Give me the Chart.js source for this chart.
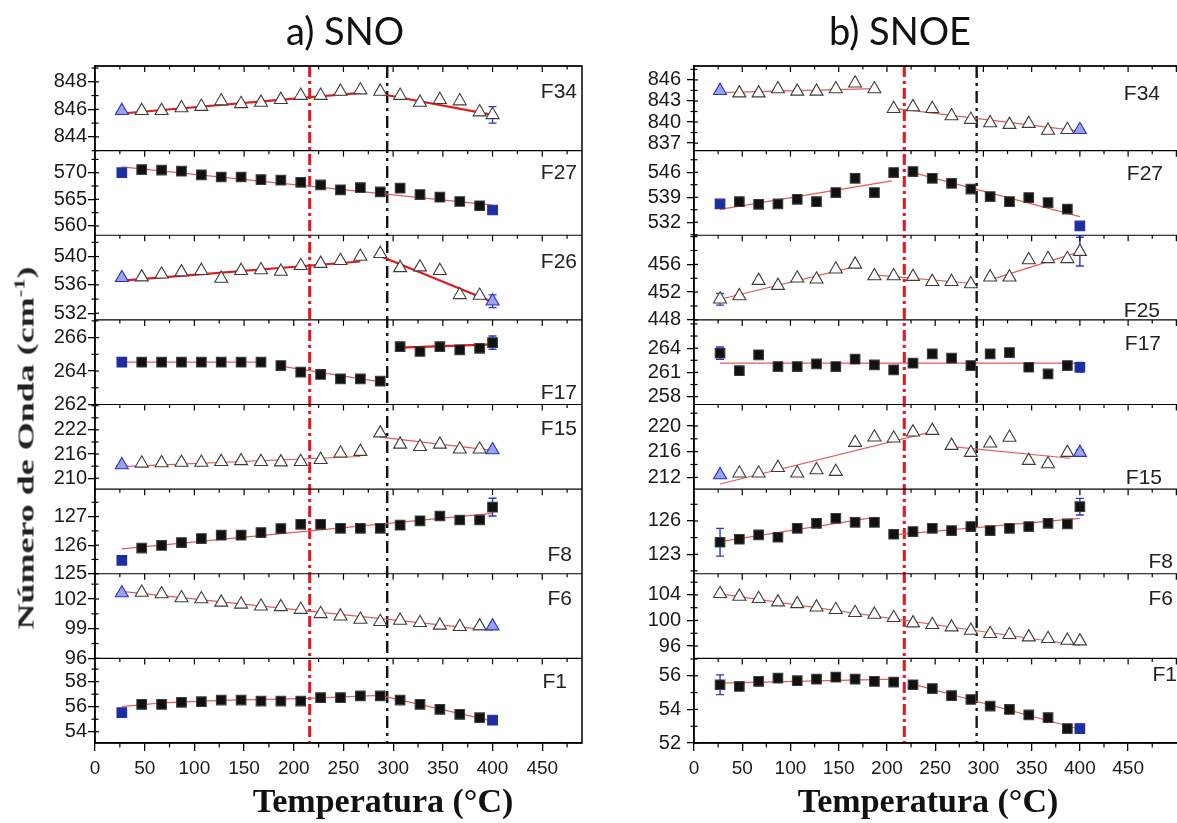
<!DOCTYPE html>
<html>
<head>
<meta charset="utf-8">
<script src="https://cdn.jsdelivr.net/npm/chart.js@4.4.1/dist/chart.umd.min.js"></script>
<style>
  html, body { margin: 0; padding: 0; background: #fff; }
  body { width: 1177px; height: 823px; overflow: hidden; position: relative; }
  canvas { position: absolute; top: 0; }
  #snoChart { left: 0; }
  #snoeChart { left: 600px; }
  .title { position: absolute; top: 30px; font-family: Lato, 'Open Sans', sans-serif; font-size: 38px; color: #111;
           line-height: 1; transform: translate(-50%, -50%); white-space: nowrap; }
  .xtitle { position: absolute; top: 801px; font-family: 'Liberation Serif', 'Times New Roman', serif; font-weight: bold;
            font-size: 34px; color: #111; line-height: 1; transform: translate(-50%, -50%); white-space: nowrap; }
  .ytitle { position: absolute; left: 25px; top: 448px; font-family: 'Liberation Serif', 'Times New Roman', serif;
            font-weight: bold; font-size: 24px; color: #222; line-height: 1; white-space: nowrap;
            transform: translate(-50%, -50%) rotate(-90deg) scaleX(1.5); }
  .ytitle sup { font-size: 15px; }
  .band { position: absolute; font-family: 'Liberation Sans', Arial, sans-serif; font-size: 21px; color: #222;
          line-height: 1; white-space: nowrap; transform: translate(-100%, -50%); }
</style>
</head>
<body>
<canvas id="snoChart" width="600" height="823"></canvas>
<canvas id="snoeChart" width="600" height="823"></canvas>
<div class="title" style="left:345px">a) SNO</div>
<div class="title" style="left:900px">b) SNOE</div>
<div class="xtitle" style="left:383px">Temperatura (°C)</div>
<div class="xtitle" style="left:928px">Temperatura (°C)</div>
<div class="ytitle">Número de Onda (cm<sup>-1</sup>)</div>
<script>
// temperatures (°C) of the measured spectra
const tempC = [27, 47, 67, 87, 107, 127, 147, 167, 187, 207, 227, 247, 267, 287, 307, 327, 347, 367, 387, 400];
// x tick labels
const tempTicks = [0, 50, 100, 150, 200, 250, 300, 350, 400, 450];

// a) SNO - band positions (cm-1)
const snoF34 = [845.9, 845.9, 845.9, 846.1, 846.2, 846.6, 846.4, 846.5, 846.7, 847.0, 847.0, 847.3, 847.4, 847.3, 847.0, 846.5, 846.7, 846.6, 845.8, 845.6];
const snoF27 = [570.0, 570.6, 570.5, 570.3, 569.6, 569.2, 569.2, 568.7, 568.6, 568.2, 567.7, 566.8, 567.2, 566.4, 567.1, 565.9, 565.4, 564.6, 563.8, 563.0];
const snoF26 = [537.0, 537.1, 537.5, 537.8, 538.0, 536.9, 538.0, 538.1, 537.9, 538.7, 539.0, 539.4, 540.0, 540.4, 538.4, 538.5, 538.0, 534.6, 534.5, 533.7];
const snoF17 = [264.53, 264.53, 264.53, 264.53, 264.53, 264.53, 264.53, 264.53, 264.33, 263.93, 263.8, 263.53, 263.53, 263.4, 265.46, 265.17, 265.46, 265.27, 265.36, 265.7];
const snoF15 = [213.3, 213.7, 213.8, 213.9, 213.9, 214.1, 214.3, 214.1, 214.0, 214.1, 214.6, 216.2, 216.6, 221.2, 218.4, 217.8, 218.4, 217.2, 217.2, 217.0];
const snoF8  = [125.47, 125.9, 125.99, 126.09, 126.23, 126.35, 126.35, 126.44, 126.58, 126.73, 126.73, 126.59, 126.59, 126.59, 126.7, 126.85, 127.02, 126.88, 126.88, 127.33];
const snoF6  = [102.6, 102.65, 102.5, 102.1, 102.0, 101.66, 101.46, 101.26, 101.2, 100.93, 100.5, 100.26, 99.93, 99.7, 99.83, 99.6, 99.33, 99.2, 99.26, 99.26];
const snoF1  = [55.52, 56.19, 56.19, 56.35, 56.4, 56.53, 56.53, 56.45, 56.45, 56.45, 56.72, 56.72, 56.86, 56.86, 56.53, 56.19, 55.79, 55.39, 55.12, 54.93];

// a) SNO - fitted segments [temp, cm-1]
const snoF34Fit = [[[27, 845.7], [267, 847.2]], [[285, 847.15], [400, 845.6]]];
const snoF27Fit = [[[27, 571.1], [400, 563.9]]];
const snoF26Fit = [[[27, 536.6], [267, 539.3]], [[283, 540.3], [400, 533.6]]];
const snoF17Fit = [[[27, 264.53], [167, 264.53]], [[187, 264.3], [287, 263.35]], [[307, 265.4], [400, 265.6]]];
const snoF15Fit = [[[27, 212.9], [267, 215.4]], [[287, 220.2], [400, 216.9]]];
const snoF8Fit  = [[[27, 125.87], [400, 127.11]]];
const snoF6Fit  = [[[27, 102.76], [400, 98.83]]];
const snoF1Fit  = [[[27, 56.0], [67, 56.3], [127, 56.5], [207, 56.65], [287, 56.9]], [[290, 56.85], [400, 54.85]]];

// a) SNO - error of first / last point
const snoF34Err = [0, 0.6];
const snoF27Err = [0, 0];
const snoF26Err = [0, 0.9];
const snoF17Err = [0.15, 0.4];
const snoF15Err = [0, 0];
const snoF8Err  = [0, 0.31];
const snoF6Err  = [0, 0];
const snoF1Err  = [0, 0];

// a) SNO - tick labels
const snoF34Ticks = [844, 846, 848];
const snoF27Ticks = [560, 565, 570];
const snoF26Ticks = [532, 536, 540];
const snoF17Ticks = [262, 264, 266];
const snoF15Ticks = [210, 216, 222];
const snoF8Ticks  = [125, 126, 127];
const snoF6Ticks  = [96, 99, 102];
const snoF1Ticks  = [54, 56, 58];

// b) SNOE - band positions (cm-1)
const snoeF34 = [844.46, 844.12, 844.12, 844.7, 844.36, 844.36, 844.7, 845.52, 844.7, 841.9, 842.15, 841.9, 840.85, 840.35, 839.87, 839.63, 839.77, 838.8, 838.9, 838.9];
const snoeF27 = [537.12, 537.77, 537.03, 537.12, 538.43, 537.77, 540.3, 544.3, 540.3, 545.9, 546.2, 544.3, 542.9, 541.3, 539.2, 537.77, 538.9, 537.5, 535.7, 530.96];
const snoeF25 = [450.97, 451.45, 453.66, 452.94, 454.0, 453.86, 455.3, 456.0, 454.33, 454.33, 454.23, 453.5, 453.5, 453.18, 454.15, 454.15, 456.64, 456.8, 456.8, 457.84];
const snoeF17 = [263.38, 261.22, 263.17, 261.72, 261.72, 262.05, 261.72, 262.64, 261.93, 261.31, 262.14, 263.29, 262.76, 261.85, 263.29, 263.45, 261.64, 260.81, 261.85, 261.64];
const snoeF15 = [212.37, 212.63, 212.63, 213.5, 212.63, 213.15, 212.88, 217.4, 218.24, 218.09, 219.03, 219.28, 216.94, 215.85, 217.3, 218.2, 214.6, 214.08, 215.85, 215.85];
const snoeF8  = [124.08, 124.35, 124.74, 124.53, 125.34, 125.79, 126.24, 125.88, 125.88, 124.8, 125.04, 125.34, 125.13, 125.49, 125.13, 125.34, 125.49, 125.79, 125.73, 127.29];
const snoeF6  = [104.18, 103.76, 103.4, 102.87, 102.6, 102.08, 101.67, 101.2, 100.94, 100.42, 99.58, 99.32, 98.95, 98.43, 97.91, 97.76, 97.39, 97.13, 96.87, 96.76];
const snoeF1  = [55.47, 55.37, 55.67, 55.86, 55.71, 55.8, 55.92, 55.8, 55.67, 55.63, 55.47, 55.24, 54.82, 54.59, 54.2, 54.0, 53.67, 53.51, 52.86, 52.86];

// b) SNOE - fitted segments
const snoeF34Fit = [[[27, 844.2], [187, 844.77]], [[210, 841.9], [400, 838.7]]];
const snoeF27Fit = [[[27, 535.6], [205, 543.56]], [[227, 545.9], [400, 533.57]]];
const snoeF25Fit = [[[27, 450.97], [167, 455.68]], [[187, 454.48], [287, 453.28]], [[307, 453.76], [400, 457.84]]];
const snoeF17Fit = [[[27, 262.14], [400, 262.14]]];
const snoeF15Fit = [[[27, 210.96], [247, 219.12]], [[267, 216.78], [390, 214.97]]];
const snoeF8Fit  = [[[27, 124.14], [187, 126.33]], [[207, 124.74], [400, 126.24]]];
const snoeF6Fit  = [[[27, 104.18], [400, 96.08]]];
const snoeF1Fit  = [[[27, 55.57], [207, 55.8]], [[227, 55.51], [400, 52.82]]];

// b) SNOE - error of first / last point
const snoeF34Err = [0, 0];
const snoeF27Err = [0, 0];
const snoeF25Err = [0.84, 2.07];
const snoeF17Err = [0.77, 0.6];
const snoeF15Err = [0, 0.4];
const snoeF8Err  = [1.25, 0.75];
const snoeF6Err  = [0, 0];
const snoeF1Err  = [0.59, 0];

// b) SNOE - tick labels
const snoeF34Ticks = [837, 840, 843, 846];
const snoeF27Ticks = [532, 539, 546];
const snoeF25Ticks = [448, 452, 456];
const snoeF17Ticks = [258, 261, 264];
const snoeF15Ticks = [212, 216, 220];
const snoeF8Ticks  = [123, 126];
const snoeF6Ticks  = [96, 100, 104];
const snoeF1Ticks  = [52, 54, 56];

// transition temperatures (red / black dash-dot)
const snoTransitions = [216, 294];
const snoeTransitions = [218, 293];

const FONT = "'Liberation Sans', Arial, Helvetica, sans-serif";

const snoRows = [
  { name: 'F34', values: snoF34, fit: snoF34Fit, err: snoF34Err, ticks: snoF34Ticks, range: [843, 849.15], marker: 'tri', blue: [true, false], bold: [0, 1], tag: { anchor: 'top', dy: 24, dx: 5 } },
  { name: 'F27', values: snoF27, fit: snoF27Fit, err: snoF27Err, ticks: snoF27Ticks, range: [558.26, 574.15], marker: 'sq', blue: [true, true], tag: { anchor: 'top', dy: 20, dx: 5 } },
  { name: 'F26', values: snoF26, fit: snoF26Fit, err: snoF26Err, ticks: snoF26Ticks, range: [531.07, 543.0], marker: 'tri', blue: [true, true], bold: [0, 1], tag: { anchor: 'top', dy: 25, dx: 5 } },
  { name: 'F17', values: snoF17, fit: snoF17Fit, err: snoF17Err, ticks: snoF17Ticks, range: [262, 267.06], marker: 'sq', blue: [true, false], bold: [2], tag: { anchor: 'bottom', dy: 14, dx: 5 } },
  { name: 'F15', values: snoF15, fit: snoF15Fit, err: snoF15Err, ticks: snoF15Ticks, range: [207.3, 228.3], marker: 'tri', blue: [true, true], tag: { anchor: 'top', dy: 22, dx: 5 } },
  { name: 'F8',  values: snoF8,  fit: snoF8Fit,  err: snoF8Err,  ticks: snoF8Ticks,  range: [125, 127.96], marker: 'sq', blue: [true, false], tag: { anchor: 'bottom', dy: 21, dx: 10 } },
  { name: 'F6',  values: snoF6,  fit: snoF6Fit,  err: snoF6Err,  ticks: snoF6Ticks,  range: [96, 104.55], marker: 'tri', blue: [true, true], tag: { anchor: 'top', dy: 23, dx: 10 } },
  { name: 'F1',  values: snoF1,  fit: snoF1Fit,  err: snoF1Err,  ticks: snoF1Ticks,  range: [53.1, 59.86], marker: 'sq', blue: [true, true], tag: { anchor: 'top', dy: 22, dx: 15 } }
];

const snoeRows = [
  { name: 'F34', values: snoeF34, fit: snoeF34Fit, err: snoeF34Err, ticks: snoeF34Ticks, range: [835.93, 847.98], marker: 'tri', blue: [true, true], tag: { anchor: 'top', dy: 26, dx: 26 } },
  { name: 'F27', values: snoeF27, fit: snoeF27Fit, err: snoeF27Err, ticks: snoeF27Ticks, range: [528.36, 552.05], marker: 'sq', blue: [true, true], tag: { anchor: 'top', dy: 21, dx: 23 } },
  { name: 'F25', values: snoeF25, fit: snoeF25Fit, err: snoeF25Err, ticks: snoeF25Ticks, range: [448, 460.2], marker: 'tri', blue: [false, false], tag: { anchor: 'bottom', dy: 11, dx: 26 } },
  { name: 'F17', values: snoeF17, fit: snoeF17Fit, err: snoeF17Err, ticks: snoeF17Ticks, range: [257.03, 267.5], marker: 'sq', blue: [false, true], tag: { anchor: 'top', dy: 22, dx: 25 } },
  { name: 'F15', values: snoeF15, fit: snoeF15Fit, err: snoeF15Err, ticks: snoeF15Ticks, range: [210.16, 223.35], marker: 'tri', blue: [true, true], tag: { anchor: 'bottom', dy: 13, dx: 24 } },
  { name: 'F8',  values: snoeF8,  fit: snoeF8Fit,  err: snoeF8Err,  ticks: snoeF8Ticks,  range: [121.24, 128.87], marker: 'sq', blue: [false, false], tag: { anchor: 'bottom', dy: 14, dx: 13 } },
  { name: 'F6',  values: snoeF6,  fit: snoeF6Fit,  err: snoeF6Err,  ticks: snoeF6Ticks,  range: [94.06, 107.32], marker: 'tri', blue: [false, false], tag: { anchor: 'top', dy: 23, dx: 13 } },
  { name: 'F1',  values: snoeF1,  fit: snoeF1Fit,  err: snoeF1Err,  ticks: snoeF1Ticks,  range: [52, 57.04], marker: 'sq', blue: [false, true], tag: { anchor: 'top', dy: 15, dx: 9 } }
];

// transition lines, error bars, frame, separators and minor ticks
const panelDecor = {
  id: 'panelDecor',
  beforeDatasetsDraw(chart, args, opts) {
    const { ctx, chartArea: a, scales } = chart;
    ctx.save();
    opts.transitions.forEach((t, k) => {
      const px = scales.x.getPixelForValue(t);
      ctx.strokeStyle = k === 0 ? '#e8151d' : '#141414';
      ctx.lineWidth = k === 0 ? 3 : 2.4;
      ctx.setLineDash(k === 0 ? [11, 4, 3, 4] : [12, 5, 3, 5]);
      ctx.beginPath();
      ctx.moveTo(px, a.top);
      ctx.lineTo(px, a.bottom);
      ctx.stroke();
    });
    ctx.setLineDash([]);
    ctx.strokeStyle = '#2a3ad0';
    ctx.lineWidth = 1.4;
    chart.data.datasets.forEach((ds, i) => {
      if (!ds.errors) return;
      const meta = chart.getDatasetMeta(i);
      const ys = scales[ds.yAxisID];
      [0, ds.data.length - 1].forEach((k, e) => {
        const err = ds.errors[e];
        if (!err) return;
        const px = meta.data[k].x;
        const y1 = ys.getPixelForValue(ds.data[k].y + err);
        const y2 = ys.getPixelForValue(ds.data[k].y - err);
        ctx.beginPath();
        ctx.moveTo(px, y1); ctx.lineTo(px, y2);
        ctx.moveTo(px - 4, y1); ctx.lineTo(px + 4, y1);
        ctx.moveTo(px - 4, y2); ctx.lineTo(px + 4, y2);
        ctx.stroke();
      });
    });
    ctx.restore();
  },
  afterDraw(chart) {
    const { ctx, chartArea: a, scales } = chart;
    const x = scales.x;
    ctx.save();
    ctx.strokeStyle = '#000';
    ctx.lineWidth = 1.5;
    ctx.strokeRect(a.left, a.top, a.right - a.left, a.bottom - a.top);
    ctx.lineWidth = 1.2;
    Object.values(scales).filter(s => s.axis === 'y').forEach(s => {
      ctx.beginPath();
      ctx.moveTo(a.left, s.top);
      ctx.lineTo(a.right, s.top);
      ctx.stroke();
      for (let v = 25; v < x.max; v += 25) {
        const px = x.getPixelForValue(v);
        ctx.beginPath();
        ctx.moveTo(px, s.top);
        ctx.lineTo(px, s.top + (v % 50 === 0 ? 6 : 3.5));
        ctx.stroke();
      }
      const tk = s.ticks.map(t => t.value);
      const step = tk[1] - tk[0];
      for (let v = tk[0] - step; v <= s.max + 1e-9; v += step / 2) {
        if (v < s.min - 1e-9) continue;
        const py = s.getPixelForValue(v);
        const major = tk.some(t => Math.abs(t - v) < 1e-6);
        ctx.beginPath();
        ctx.moveTo(a.left - (major ? 0 : 3.5), py);
        ctx.lineTo(a.left + (major ? 4 : 3.5), py);
        ctx.stroke();
      }
    });
    for (let v = 25; v < x.max; v += 50) {
      const px = x.getPixelForValue(v);
      ctx.beginPath();
      ctx.moveTo(px, a.bottom);
      ctx.lineTo(px, a.bottom + 4.5);
      ctx.stroke();
    }
    ctx.restore();
  }
};

function pointColors(row) {
  const n = tempC.length;
  const bg = [], bd = [];
  for (let k = 0; k < n; k++) {
    const blue = (k === 0 && row.blue[0]) || (k === n - 1 && row.blue[1]);
    if (row.marker === 'tri') {
      bg.push(blue ? '#9aa2ea' : '#ffffff');
      bd.push(blue ? '#2634c8' : '#3c3c3c');
    } else {
      bg.push(blue ? '#1d2fa0' : '#111111');
      bd.push(blue ? '#1d2fa0' : '#3c3c3c');
    }
  }
  return { bg, bd };
}

function buildPanel(canvasId, rows, transitions, g) {
  const scales = {
    x: {
      type: 'linear', position: 'bottom', min: 0, max: g.xMax,
      afterBuildTicks: s => { s.ticks = tempTicks.map(v => ({ value: v })); },
      ticks: { autoSkip: false, maxRotation: 0, padding: 6, color: '#1a1a1a', font: { family: FONT, size: 19 } },
      grid: { drawOnChartArea: false, tickLength: 8, color: '#000', lineWidth: 1.3 },
      border: { color: '#000', width: 1.5 },
      afterFit: s => { s.height = 40; }
    }
  };
  const datasets = [];
  rows.forEach((row, i) => {
    const id = 'y' + i;
    scales[id] = {
      type: 'linear', position: 'left', stack: 'rows', stackWeight: 1, weight: rows.length - i, offset: false,
      min: row.range[0], max: row.range[1],
      afterBuildTicks: s => { s.ticks = row.ticks.map(v => ({ value: v })); },
      afterFit: s => { s.width = g.yWidth; },
      ticks: { autoSkip: false, padding: g.yPad, color: '#1a1a1a', font: { family: FONT, size: 20 } },
      grid: { drawOnChartArea: false, tickLength: 7, color: '#000', lineWidth: 1.3 },
      border: { color: '#000', width: 1.5 }
    };
    const c = pointColors(row);
    datasets.push({
      label: row.name,
      data: tempC.map((t, k) => ({ x: t, y: row.values[k] })),
      yAxisID: id,
      pointStyle: row.marker === 'tri' ? 'triangle' : 'rect',
      pointRadius: row.marker === 'tri' ? 7.5 : 6.8,
      backgroundColor: c.bg,
      borderColor: c.bd,
      borderWidth: 1.1,
      showLine: false,
      order: 0,
      errors: row.err
    });
    row.fit.forEach((seg, j) => {
      const bold = row.bold && row.bold.includes(j);
      datasets.push({
        data: seg.map(p => ({ x: p[0], y: p[1] })),
        yAxisID: id,
        showLine: true,
        borderColor: bold ? '#dd1c1c' : '#e35b5b',
        borderWidth: bold ? 2.2 : 1.2,
        pointRadius: 0,
        order: 1
      });
    });
  });
  return new Chart(document.getElementById(canvasId), {
    type: 'scatter',
    data: { datasets },
    options: {
      responsive: false,
      animation: false,
      devicePixelRatio: 1,
      layout: { padding: g.padding },
      plugins: { legend: { display: false }, tooltip: { enabled: false }, panelDecor: { transitions } },
      scales
    },
    plugins: [panelDecor]
  });
}

function addBandLabels(chart, rows, offsetLeft) {
  const a = chart.chartArea;
  rows.forEach((row, i) => {
    const s = chart.scales['y' + i];
    const d = document.createElement('div');
    d.className = 'band';
    d.textContent = row.name;
    const y = row.tag.anchor === 'top' ? s.top + row.tag.dy : s.bottom - row.tag.dy;
    d.style.left = (offsetLeft + a.right - row.tag.dx) + 'px';
    d.style.top = y + 'px';
    document.body.appendChild(d);
  });
}

const snoChart = buildPanel('snoChart', snoRows, snoTransitions, {
  xMax: 490, yWidth: 65, yPad: 1, padding: { left: 30, right: 18, top: 66, bottom: 40 }
});
const snoeChart = buildPanel('snoeChart', snoeRows, snoeTransitions, {
  xMax: 510, yWidth: 64, yPad: 6, padding: { left: 30, right: 14, top: 66, bottom: 40 }
});
addBandLabels(snoChart, snoRows, 0);
addBandLabels(snoeChart, snoeRows, 600);
</script>
</body>
</html>
